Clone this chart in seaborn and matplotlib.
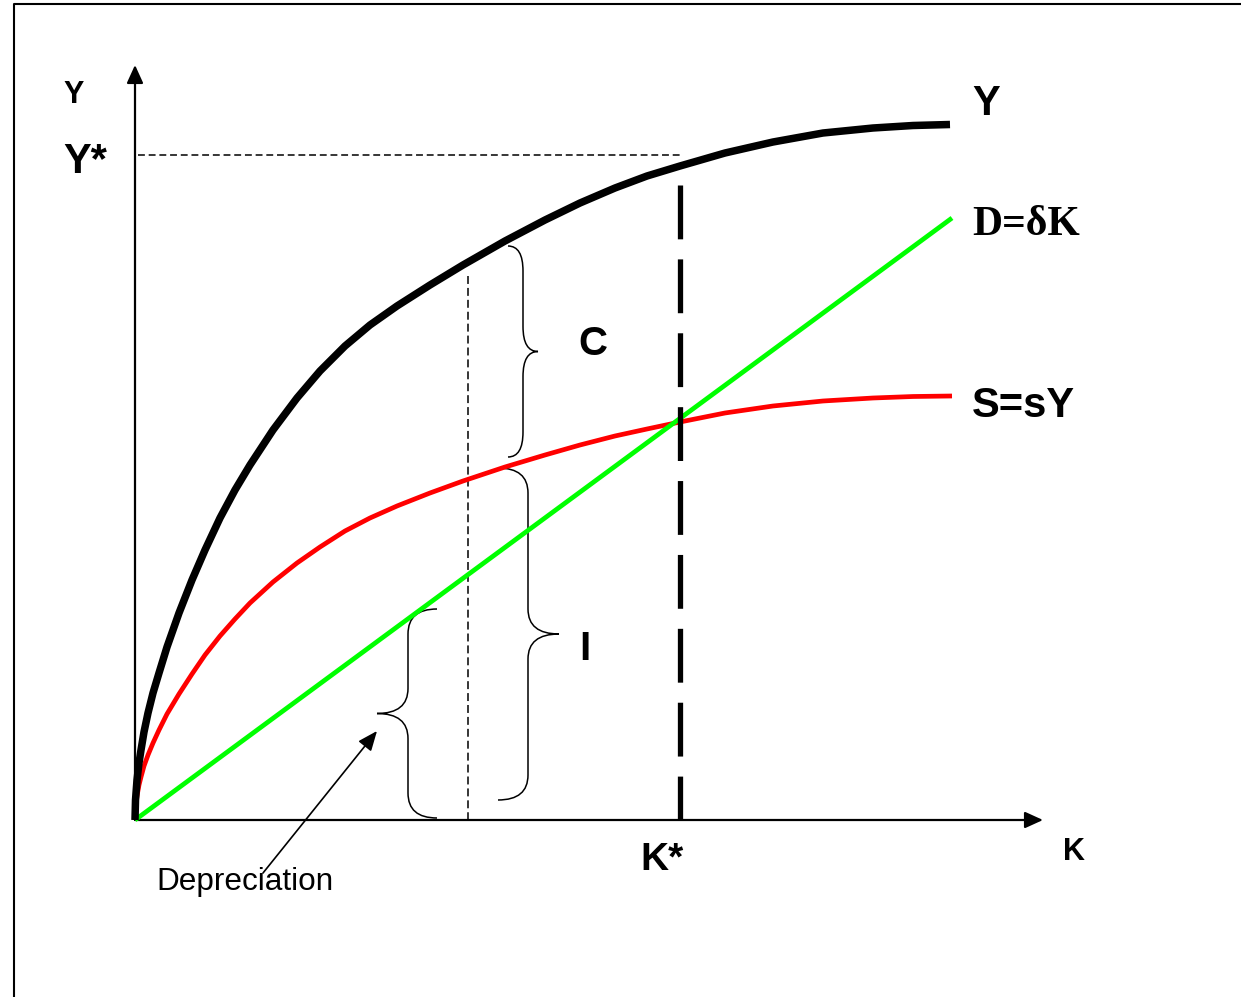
import matplotlib
matplotlib.use("Agg")
import numpy as np
import pandas as pd
import matplotlib.pyplot as plt
import seaborn as sns
from matplotlib.path import Path
from matplotlib.patches import PathPatch

# ---------------- data ----------------
# Output curve Y = f(K)
K_output = [0, 0.005, 0.02, 0.04, 0.06, 0.09, 0.13, 0.18, 0.24, 0.32, 0.44, 0.57, 0.70,
            0.85, 1.00, 1.15, 1.38, 1.62, 1.85, 2.10, 2.35, 2.62, 2.95, 3.28, 3.70,
            4.10, 4.45, 4.80, 5.12, 5.45, 5.90, 6.38, 6.88, 7.38, 7.78, 8.15]
Y_output = [0, 0.20, 0.40, 0.57, 0.70, 0.88, 1.07, 1.27, 1.47, 1.73, 2.07, 2.40, 2.70,
            3.02, 3.30, 3.55, 3.90, 4.22, 4.49, 4.74, 4.95, 5.14, 5.35, 5.55, 5.79,
            6.00, 6.17, 6.32, 6.44, 6.54, 6.67, 6.78, 6.87, 6.92, 6.945, 6.955]

# Savings curve S = sY
K_saving = [0, 0.005, 0.02, 0.04, 0.06, 0.09, 0.13, 0.18, 0.24, 0.32, 0.44, 0.57, 0.70,
            0.85, 1.00, 1.15, 1.38, 1.62, 1.85, 2.10, 2.35, 2.62, 2.95, 3.28, 3.70,
            4.10, 4.45, 4.80, 5.12, 5.45, 5.90, 6.38, 6.88, 7.38, 7.78, 8.17]
S_saving = [0, 0.12, 0.24, 0.35, 0.43, 0.54, 0.65, 0.77, 0.90, 1.06, 1.26, 1.46, 1.65,
            1.84, 2.01, 2.17, 2.38, 2.57, 2.73, 2.89, 3.02, 3.14, 3.27, 3.39, 3.53,
            3.65, 3.75, 3.84, 3.91, 3.98, 4.07, 4.14, 4.19, 4.22, 4.235, 4.24]

# Depreciation line D = delta K
K_dep = [0, 8.17]
D_dep = [0, 6.02]

K_star = 5.45
Y_star = 6.65
K_guide = 3.33

curve_labels = ["Y", "D=δK", "S=sY"]
axis_labels = ["Y", "K"]

# ---------------- figure ----------------
sns.set_theme(style="white")
plt.rcParams['font.family'] = ['Liberation Sans', 'DejaVu Sans']

fig = plt.figure(figsize=(12.41, 9.97), dpi=100)
ax = fig.add_axes([0, 0, 1, 1])

df_y = pd.DataFrame({"K": K_output, "V": Y_output})
df_s = pd.DataFrame({"K": K_saving, "V": S_saving})
df_d = pd.DataFrame({"K": K_dep, "V": D_dep})

sns.lineplot(data=df_s, x="K", y="V", color="#FF0000", lw=3.4, sort=False,
             estimator=None, ax=ax, zorder=3)
sns.lineplot(data=df_d, x="K", y="V", color="#00FF00", lw=3.4, sort=False,
             estimator=None, ax=ax, zorder=3)
sns.lineplot(data=df_y, x="K", y="V", color="black", lw=5.4, sort=False,
             estimator=None, ax=ax, zorder=4)
for ln in ax.lines:
    ln.set_solid_capstyle("butt")
    ln.set_solid_joinstyle("round")

ax.set_xlim(-1.35, 11.06)
ax.set_ylim(-1.77, 8.20)
ax.set_axis_off()

# outer frame (runs off the right and bottom edges)
ax.plot([-1.21, -1.21, 12.0], [-3.0, 8.16, 8.16], color="black", lw=1.5, zorder=1)

# axes with arrows
arrow_style = "-|>,head_length=0.55,head_width=0.25"
ax.annotate("", xy=(0, 7.55), xytext=(0, 0),
            arrowprops=dict(arrowstyle=arrow_style, lw=1.6, color="black",
                            shrinkA=0, shrinkB=0, mutation_scale=20), zorder=2)
ax.annotate("", xy=(9.08, 0), xytext=(0, 0),
            arrowprops=dict(arrowstyle=arrow_style, lw=1.6, color="black",
                            shrinkA=0, shrinkB=0, mutation_scale=20), zorder=2)

# guide lines
ax.plot([0.03, K_star], [Y_star, Y_star], color="black", lw=1.1,
        linestyle=(0, (4.5, 2.5)), zorder=2)
ax.plot([K_star, K_star], [6.35, 0], color="black", lw=3.8,
        linestyle=(0, (10.2, 3.8)), dash_capstyle="butt", zorder=5)
ax.plot([K_guide, K_guide], [5.44, 0], color="black", lw=1.1,
        linestyle=(0, (5.2, 2.6)), zorder=2)


# braces
def brace(x_end, x_mid, x_tip, y_top, y_bot, r=0.25):
    ym = (y_top + y_bot) / 2
    verts = [(x_end, y_top), (x_mid, y_top), (x_mid, y_top - r),
             (x_mid, ym + r), (x_mid, ym), (x_tip, ym),
             (x_mid, ym), (x_mid, ym - r),
             (x_mid, y_bot + r), (x_mid, y_bot), (x_end, y_bot)]
    codes = [Path.MOVETO, Path.CURVE3, Path.CURVE3,
             Path.LINETO, Path.CURVE3, Path.CURVE3,
             Path.CURVE3, Path.CURVE3,
             Path.LINETO, Path.CURVE3, Path.CURVE3]
    ax.add_patch(PathPatch(Path(verts, codes), facecolor="none",
                           edgecolor="black", lw=1.1, zorder=2))


brace(3.73, 3.88, 4.03, 5.74, 3.63)   # C
brace(3.63, 3.93, 4.24, 3.52, 0.20)   # I
brace(3.02, 2.73, 2.42, 2.11, 0.02)   # depreciation

# depreciation pointer
ax.annotate("", xy=(2.42, 0.89), xytext=(1.28, -0.53),
            arrowprops=dict(arrowstyle="-|>,head_length=0.6,head_width=0.25",
                            lw=1.2, color="black", shrinkA=0, shrinkB=0,
                            mutation_scale=20), zorder=6)

# texts
bold = dict(fontweight="bold", color="black")
ax.text(-0.61, 7.17, axis_labels[0], fontsize=22, ha="center", va="baseline", **bold)
ax.text(-0.72, 6.47, "Y*", fontsize=30, ha="left", va="baseline", **bold)
ax.text(8.37, 7.05, curve_labels[0], fontsize=30, ha="left", va="baseline", **bold)
ax.text(8.37, 5.85, curve_labels[1], fontsize=30, ha="left", va="baseline",
        family=["Liberation Serif", "DejaVu Serif"], **bold)
ax.text(8.37, 4.03, curve_labels[2], fontsize=30, ha="left", va="baseline", **bold)
ax.text(4.58, 4.65, "C", fontsize=29, ha="center", va="baseline", **bold)
ax.text(4.50, 1.60, "I", fontsize=29, ha="center", va="baseline", **bold)
ax.text(5.05, -0.50, "K*", fontsize=28, ha="left", va="baseline", **bold)
ax.text(9.28, -0.40, axis_labels[1], fontsize=22, ha="left", va="baseline", **bold)
ax.text(0.21, -0.70, "Depreciation", fontsize=22.7, ha="left", va="baseline",
        color="black", zorder=5)

fig.savefig("out.png", dpi=100, facecolor="white")
